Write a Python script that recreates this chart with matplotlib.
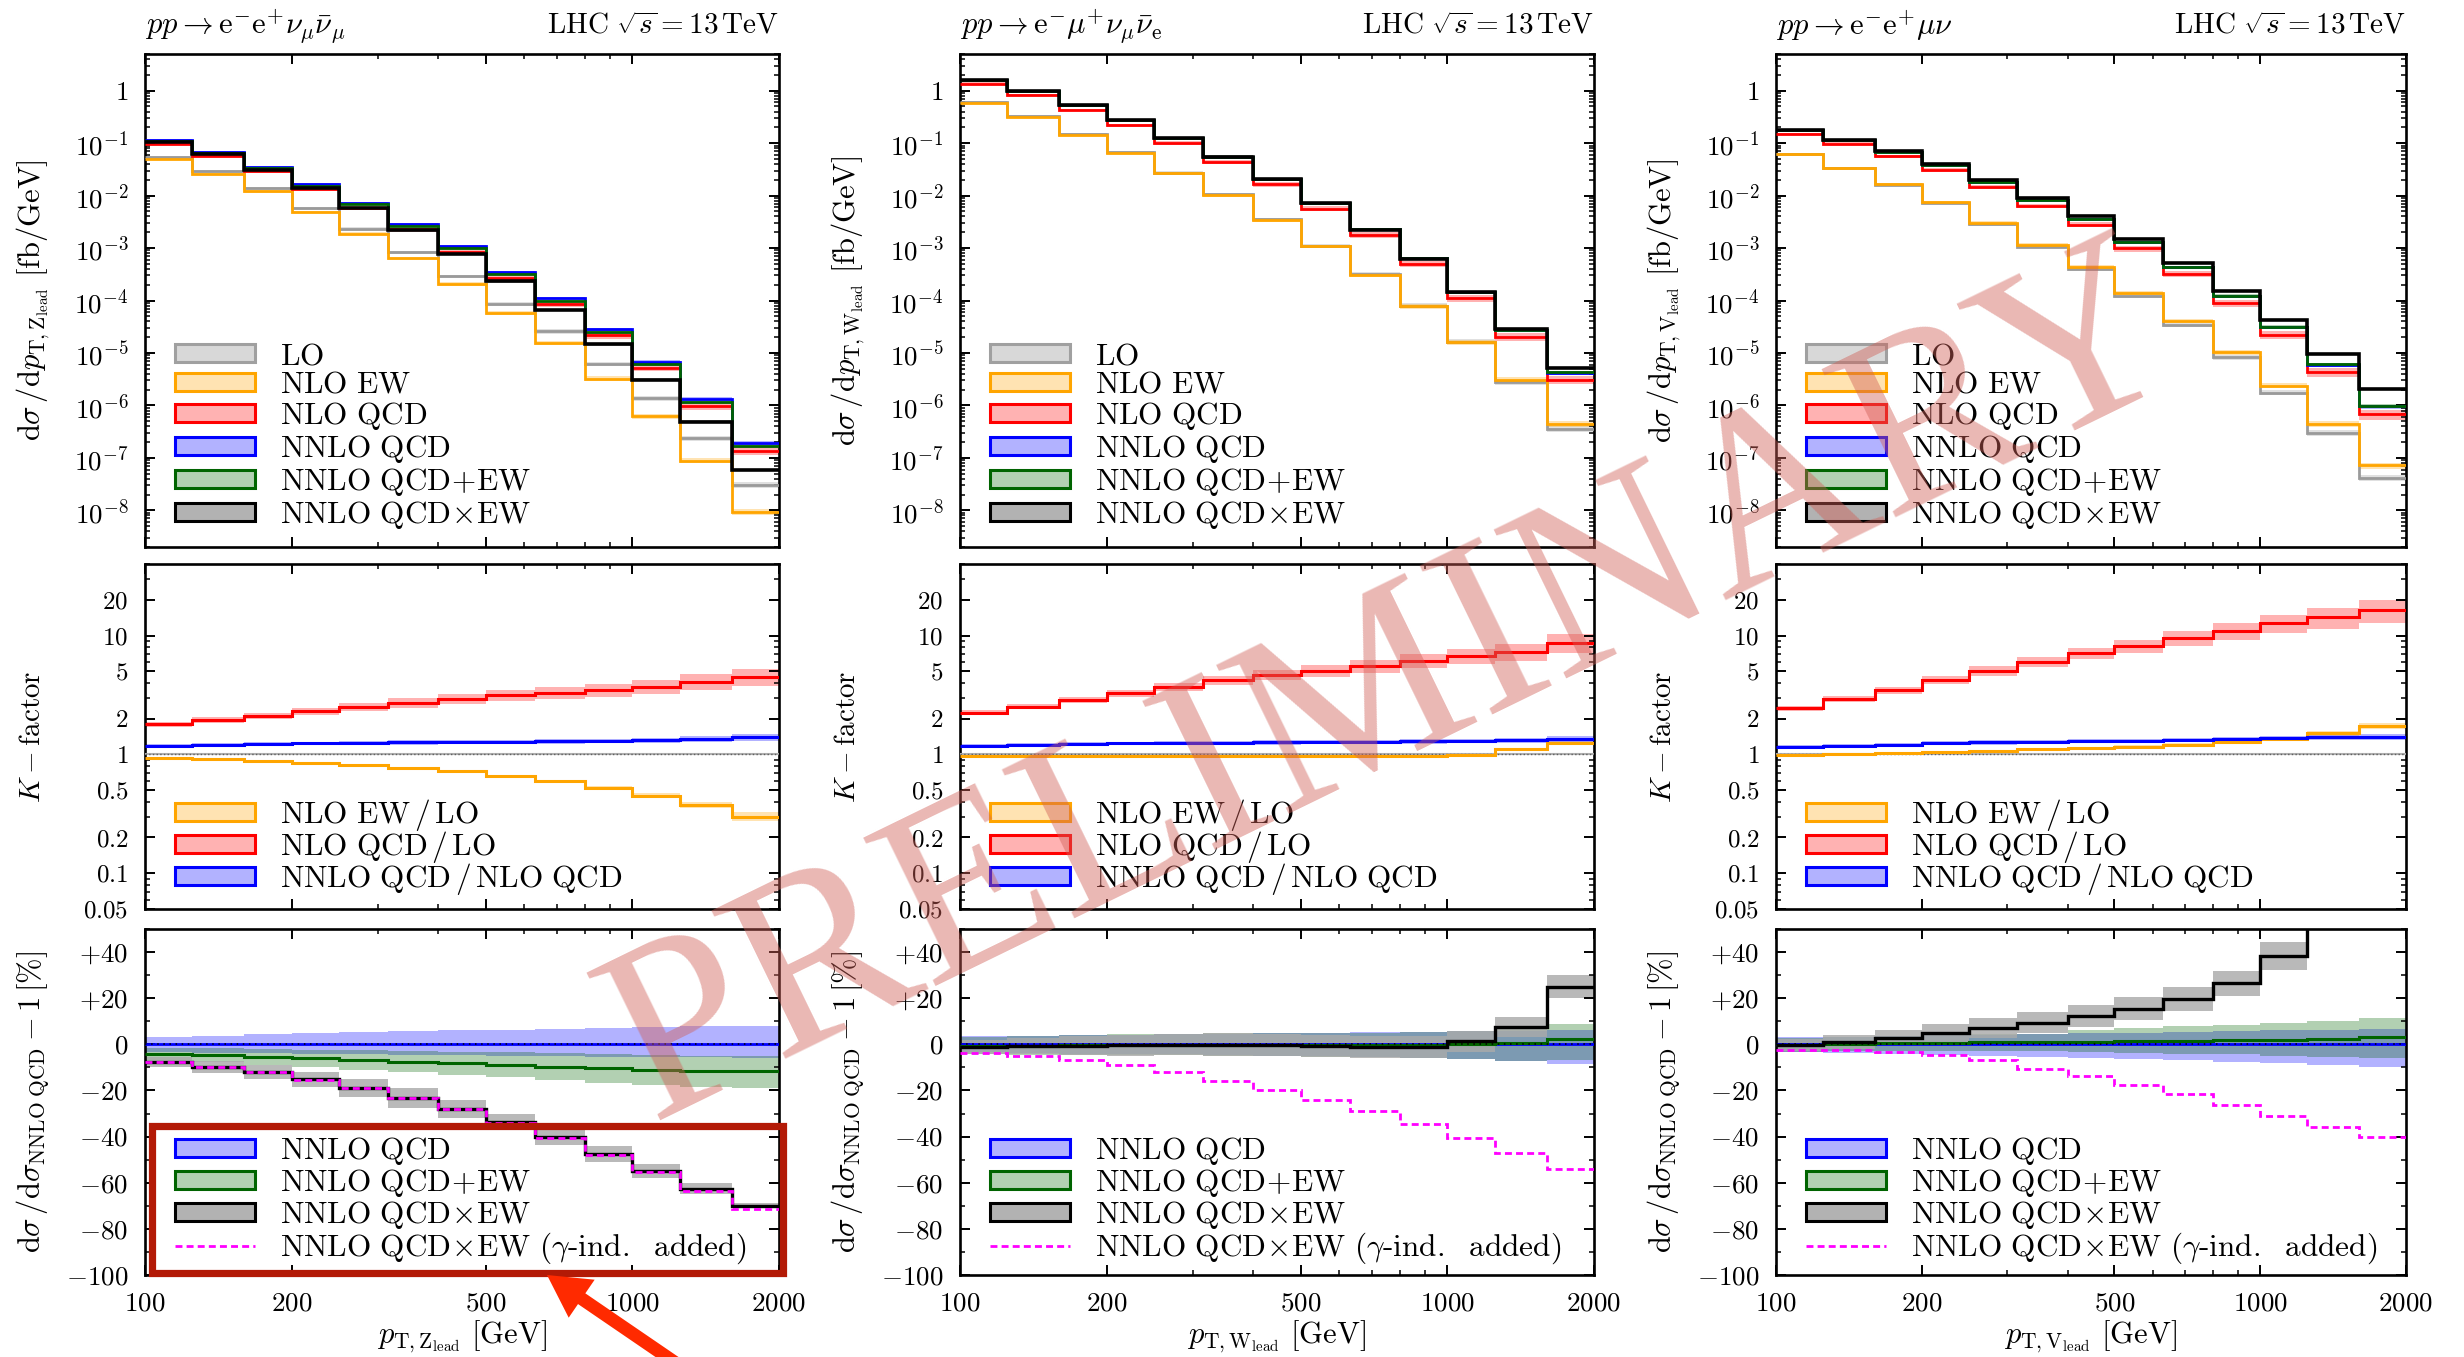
import numpy as np
import matplotlib
matplotlib.use('Agg')
import matplotlib.pyplot as plt
from matplotlib.patches import Patch, Rectangle, Polygon
from matplotlib.lines import Line2D
from matplotlib.ticker import FixedLocator, FuncFormatter, LogLocator, MultipleLocator, NullFormatter

plt.rcParams['mathtext.fontset'] = 'cm'
plt.rcParams['font.family'] = ['cmr10', 'DejaVu Serif']
plt.rcParams['axes.unicode_minus'] = False

# ---------------- data ----------------
edges = [100, 125, 160, 200, 250, 315, 400, 500, 630, 800, 1000, 1250, 1600, 2000]

# ZZ : pp -> e- e+ nu_mu nu_mu~
zz_lo = [5.4e-2, 2.88e-2, 1.37e-2, 5.76e-3, 2.31e-3, 8.3e-4, 2.88e-4, 8.7e-5, 2.58e-5, 6.2e-6, 1.39e-6, 2.38e-7, 3.06e-8]
zz_k_ew = [0.925, 0.91, 0.885, 0.85, 0.81, 0.767, 0.72, 0.657, 0.592, 0.524, 0.45, 0.374, 0.30]
zz_k_qcd = [1.80, 1.95, 2.12, 2.30, 2.52, 2.72, 2.93, 3.14, 3.31, 3.48, 3.72, 4.10, 4.51]
zz_k_nnlo = [1.175, 1.20, 1.22, 1.24, 1.25, 1.26, 1.27, 1.28, 1.29, 1.30, 1.32, 1.35, 1.39]
zz_lo_band = [5, 5, 6, 6, 7, 7, 8, 8, 9, 10, 11, 12, 13]
zz_ew_kband = [1, 1, 1, 1.5, 1.5, 2, 2, 2.5, 3, 4, 5, 6, 9]
zz_qcd_kband = [5, 5, 6, 7, 8, 9, 10, 11, 12, 13, 14, 15, 16]
zz_nnlo_kband = [3.5, 3.5, 3.5, 3.5, 3.5, 4, 4, 4, 4.5, 4.5, 5, 5.5, 6]
zz_nnlo_up = [3.2, 3.8, 4.3, 4.8, 5.3, 5.7, 6.1, 6.4, 6.8, 7.1, 7.5, 7.8, 8.0]
zz_nnlo_dn = [3.5, 3.7, 3.9, 4.1, 4.3, 4.5, 4.7, 4.9, 5.1, 5.3, 5.5, 5.7, 5.8]
zz_plus = [-4.1, -4.8, -5.5, -6.1, -6.8, -7.5, -8.2, -8.9, -9.7, -10.4, -11.0, -11.4, -11.4]
zz_plus_up = [2.6, 3.0, 3.4, 3.8, 4.2, 4.6, 5.0, 5.4, 5.8, 6.1, 6.3, 6.4, 6.5]
zz_plus_dn = [2.6, 3.0, 3.4, 3.8, 4.2, 4.6, 5.0, 5.4, 5.8, 6.3, 6.7, 7.0, 7.4]
zz_times = [-7.7, -9.7, -12.0, -15.2, -18.8, -23.2, -28.0, -33.8, -40.3, -47.4, -54.8, -62.6, -69.9]
zz_times_band = [2.3, 2.6, 3.0, 3.3, 3.9, 4.2, 4.0, 3.5, 3.5, 3.4, 3.0, 2.5, 1.2]
zz_gamma = [-7.8, -9.8, -12.1, -15.3, -18.9, -23.3, -28.2, -34.0, -40.6, -47.8, -55.3, -63.5, -71.5]

# WW : pp -> e- mu+ nu_mu nu_e~
ww_lo = [0.61, 0.326, 0.150, 0.0673, 0.0274, 0.0105, 3.52e-3, 1.11e-3, 3.2e-4, 8.0e-5, 1.63e-5, 2.78e-6, 3.55e-7]
ww_k_ew = [0.97, 0.97, 0.97, 0.97, 0.97, 0.97, 0.97, 0.97, 0.97, 0.97, 0.98, 1.10, 1.24]
ww_k_qcd = [2.24, 2.52, 2.87, 3.27, 3.72, 4.23, 4.66, 5.07, 5.55, 6.15, 6.74, 7.33, 8.73]
ww_k_nnlo = [1.18, 1.21, 1.22, 1.24, 1.25, 1.25, 1.26, 1.27, 1.28, 1.29, 1.30, 1.32, 1.35]
ww_lo_band = [5, 5, 6, 6, 7, 7, 8, 8, 9, 10, 11, 12, 13]
ww_ew_kband = [1, 1, 1, 1, 1, 1, 1.5, 1.5, 2, 2, 2.5, 3, 4]
ww_qcd_kband = [5, 5, 6, 7, 8, 9, 10, 11, 12, 13, 14, 16, 18]
ww_nnlo_kband = [3.5, 3.5, 3.5, 3.5, 3.5, 3.5, 4, 4, 4, 4.5, 4.5, 5, 5.5]
ww_nnlo_up = [3.5, 3.8, 4.0, 4.2, 4.4, 4.6, 4.8, 5.0, 5.2, 5.4, 5.6, 5.8, 6.0]
ww_nnlo_dn = [3.5, 3.8, 4.0, 4.2, 4.4, 4.6, 4.9, 5.2, 5.5, 5.9, 6.5, 7.4, 8.4]
ww_plus = [-0.9, -0.7, -0.5, -0.4, -0.3, -0.2, -0.2, -0.3, -0.3, -0.3, 0.0, 0.6, 2.5]
ww_plus_up = [4.0, 4.3, 4.5, 4.7, 4.8, 5.0, 5.0, 5.2, 5.3, 5.5, 5.8, 6.2, 6.5]
ww_plus_dn = [3.5, 4.0, 4.0, 4.3, 4.5, 4.7, 4.8, 5.0, 5.2, 5.5, 6.5, 8.0, 9.5]
ww_times = [-1.2, -0.7, -0.6, -0.4, -0.1, -0.1, -0.3, -0.7, -1.2, -1.2, 1.3, 7.5, 25.0]
ww_times_band = [3.0, 3.5, 4.0, 4.5, 4.7, 4.8, 4.8, 4.8, 4.8, 4.8, 4.5, 4.5, 5.0]
ww_gamma = [-3.8, -5.2, -7.0, -9.1, -12.0, -15.7, -19.6, -24.0, -29.1, -34.6, -40.7, -47.2, -54.0]

# WZ : pp -> e- e+ mu nu
wz_lo = [0.062, 0.0337, 0.0162, 7.24e-3, 2.86e-3, 1.06e-3, 3.9e-4, 1.2e-4, 3.41e-5, 8.2e-6, 1.76e-6, 3.0e-7, 4.15e-8]
wz_k_ew = [0.99, 1.0, 1.02, 1.04, 1.07, 1.10, 1.13, 1.16, 1.21, 1.26, 1.35, 1.50, 1.73]
wz_k_qcd = [2.44, 2.91, 3.48, 4.23, 5.04, 6.04, 7.10, 8.18, 9.50, 10.9, 12.7, 14.3, 16.4]
wz_k_nnlo = [1.16, 1.18, 1.21, 1.25, 1.26, 1.28, 1.30, 1.30, 1.32, 1.35, 1.37, 1.39, 1.41]
wz_lo_band = [5, 5, 6, 6, 7, 7, 8, 8, 9, 10, 11, 12, 13]
wz_ew_kband = [1, 1, 1, 1.5, 1.5, 2, 2, 2.5, 3, 3.5, 4, 5, 6]
wz_qcd_kband = [5, 6, 7, 8, 9, 10, 11, 13, 14, 16, 18, 20, 22]
wz_nnlo_kband = [3.5, 3.5, 3.5, 3.5, 4, 4, 4, 4, 4.5, 4.5, 5, 5, 5.5]
wz_nnlo_up = [3.0, 3.3, 3.6, 3.9, 4.2, 4.5, 4.8, 5.1, 5.4, 5.7, 6.0, 6.3, 6.6]
wz_nnlo_dn = [3.5, 3.8, 4.2, 4.6, 5.0, 5.4, 5.9, 6.4, 7.0, 7.6, 8.3, 9.1, 9.9]
wz_plus = [-0.3, 0.3, 0.6, 0.7, 0.9, 1.0, 1.2, 1.3, 1.4, 1.7, 2.0, 2.5, 3.2]
wz_plus_up = [3.0, 3.0, 3.2, 3.3, 3.4, 3.6, 4.8, 5.7, 6.4, 6.8, 7.3, 7.6, 8.0]
wz_plus_dn = [3.0, 3.2, 3.4, 3.6, 3.8, 4.0, 4.5, 5.0, 5.5, 6.0, 7.0, 8.0, 9.0]
wz_times = [-0.3, 1.0, 2.9, 4.9, 7.2, 9.4, 12.3, 15.5, 19.7, 26.4, 38.3, 58.0, 110.0]
wz_times_band = [2.5, 3.0, 3.5, 4.0, 4.3, 4.6, 4.8, 5.0, 5.3, 5.6, 6.0, 7.0, 8.0]
wz_gamma = [-2.3, -2.6, -3.3, -4.8, -7.0, -10.6, -13.9, -17.5, -21.7, -26.1, -30.9, -35.7, -40.3]

lo_ratio_band = 2.0  # % band of LO/LO reference line

proc_titles = [r'$pp\rightarrow\mathrm{e}^{-}\mathrm{e}^{+}\nu_{\mu}\bar{\nu}_{\mu}$',
               r'$pp\rightarrow\mathrm{e}^{-}\mu^{+}\nu_{\mu}\bar{\nu}_{\mathrm{e}}$',
               r'$pp\rightarrow\mathrm{e}^{-}\mathrm{e}^{+}\mu\nu$']
energy_label = r'$\mathrm{LHC}\ \sqrt{s}=13\,\mathrm{TeV}$'
boson_sub = ['Z', 'W', 'V']
top_labels = [r'$\mathrm{LO}$', r'$\mathrm{NLO\ EW}$', r'$\mathrm{NLO\ QCD}$', r'$\mathrm{NNLO\ QCD}$',
              r'$\mathrm{NNLO\ QCD\!+\!EW}$', r'$\mathrm{NNLO\ QCD}\!\times\!\mathrm{EW}$']
mid_labels = [r'$\mathrm{NLO\ EW\,/\,LO}$', r'$\mathrm{NLO\ QCD\,/\,LO}$', r'$\mathrm{NNLO\ QCD\,/\,NLO\ QCD}$']
bot_labels = [r'$\mathrm{NNLO\ QCD}$', r'$\mathrm{NNLO\ QCD\!+\!EW}$', r'$\mathrm{NNLO\ QCD}\!\times\!\mathrm{EW}$',
              r'$\mathrm{NNLO\ QCD}\!\times\!\mathrm{EW}\ (\gamma$-$\mathrm{ind.\ \ added})$']
k_ticks = [0.05, 0.1, 0.2, 0.5, 1, 2, 5, 10, 20]
k_tick_labels = ['0.05', '0.1', '0.2', '0.5', '1', '2', '5', '10', '20']
x_ticks = [100, 200, 500, 1000, 2000]
x_minor = [300, 400, 600, 700, 800, 900]

procs = [
    dict(lo=zz_lo, k_ew=zz_k_ew, k_qcd=zz_k_qcd, k_nnlo=zz_k_nnlo, lo_band=zz_lo_band, ew_kband=zz_ew_kband,
         qcd_kband=zz_qcd_kband, nnlo_kband=zz_nnlo_kband, nnlo_up=zz_nnlo_up, nnlo_dn=zz_nnlo_dn,
         plus=zz_plus, plus_up=zz_plus_up, plus_dn=zz_plus_dn, times=zz_times, times_band=zz_times_band,
         gamma=zz_gamma),
    dict(lo=ww_lo, k_ew=ww_k_ew, k_qcd=ww_k_qcd, k_nnlo=ww_k_nnlo, lo_band=ww_lo_band, ew_kband=ww_ew_kband,
         qcd_kband=ww_qcd_kband, nnlo_kband=ww_nnlo_kband, nnlo_up=ww_nnlo_up, nnlo_dn=ww_nnlo_dn,
         plus=ww_plus, plus_up=ww_plus_up, plus_dn=ww_plus_dn, times=ww_times, times_band=ww_times_band,
         gamma=ww_gamma),
    dict(lo=wz_lo, k_ew=wz_k_ew, k_qcd=wz_k_qcd, k_nnlo=wz_k_nnlo, lo_band=wz_lo_band, ew_kband=wz_ew_kband,
         qcd_kband=wz_qcd_kband, nnlo_kband=wz_nnlo_kband, nnlo_up=wz_nnlo_up, nnlo_dn=wz_nnlo_dn,
         plus=wz_plus, plus_up=wz_plus_up, plus_dn=wz_plus_dn, times=wz_times, times_band=wz_times_band,
         gamma=wz_gamma),
]

# ---------------- style ----------------
C_LO, C_EW, C_QCD, C_NNLO, C_PLUS, C_TIMES, C_GAM = '#9a9a9a', '#ffa500', '#ff0000', '#0000ff', '#006400', '#000000', '#ff00ff'
BAND_ALPHA = 0.3

W, H = 2464, 1357
fig = plt.figure(figsize=(W / 100, H / 100), dpi=100)

col_left = [145, 960, 1776]
col_width = [634, 634, 630]
rows = [(54, 547), (564, 909), (929, 1275)]


def add_axes(c, r):
    x0 = col_left[c]
    y0, y1 = rows[r]
    return fig.add_axes([x0 / W, 1 - y1 / H, col_width[c] / W, (y1 - y0) / H])


def band(ax, lo, hi, color, z=1, alpha=BAND_ALPHA):
    ax.stairs(hi, edges, baseline=lo, fill=True, color=color, alpha=alpha, lw=0, zorder=z)


def line(ax, v, color, lw=2.0, z=3, **kw):
    ax.stairs(v, edges, baseline=None, color=color, lw=lw, zorder=z, **kw)


def style_axis(ax, bottom_labels):
    ax.set_xscale('log')
    ax.set_xlim(100, 2000)
    ax.xaxis.set_major_locator(FixedLocator(x_ticks))
    ax.xaxis.set_minor_locator(FixedLocator(x_minor))
    ax.xaxis.set_minor_formatter(NullFormatter())
    if bottom_labels:
        ax.xaxis.set_major_formatter(FuncFormatter(lambda v, p: r'$%d$' % int(round(v))))
    else:
        ax.xaxis.set_major_formatter(NullFormatter())
    ax.tick_params(which='both', direction='in', top=True, right=True)
    ax.tick_params(which='major', length=7, width=1.4, labelsize=19.5, pad=12)
    ax.tick_params(which='minor', length=3.5, width=1.1)
    ax.tick_params(axis='x', labelbottom=bottom_labels)
    for s in ax.spines.values():
        s.set_linewidth(1.9)


def patch(color, edge=None):
    return Patch(facecolor=matplotlib.colors.to_rgba(color, BAND_ALPHA), edgecolor=edge or color, lw=2.2)


def leg_kw(spacing):
    return dict(loc='lower left', frameon=False, fontsize=22.5, handlelength=2.55, handleheight=0.52,
                handletextpad=0.82, labelspacing=spacing, borderpad=0, borderaxespad=0)


for c, p in enumerate(procs):
    lo = np.array(p['lo'])
    k_ew = np.array(p['k_ew'])
    k_qcd = np.array(p['k_qcd'])
    k_nnlo = np.array(p['k_nnlo'])
    lob = np.array(p['lo_band']) / 100
    ewb = np.array(p['ew_kband']) / 100
    qcb = np.array(p['qcd_kband']) / 100
    nnb = np.array(p['nnlo_kband']) / 100
    nup = np.array(p['nnlo_up'])
    ndn = np.array(p['nnlo_dn'])
    plus = np.array(p['plus'])
    pup = np.array(p['plus_up'])
    pdn = np.array(p['plus_dn'])
    times = np.array(p['times'])
    tb = np.array(p['times_band'])
    gam = np.array(p['gamma'])

    nlo_ew = lo * k_ew
    nlo_qcd = lo * k_qcd
    nnlo = nlo_qcd * k_nnlo
    s_plus = nnlo * (1 + plus / 100)
    s_times = nnlo * (1 + times / 100)

    # ---------- top panel ----------
    ax = add_axes(c, 0)
    style_axis(ax, False)
    ax.set_yscale('log')
    ax.set_ylim(2e-9, 5)
    ax.yaxis.set_major_locator(FixedLocator([1e-8, 1e-7, 1e-6, 1e-5, 1e-4, 1e-3, 1e-2, 1e-1, 1]))
    ax.yaxis.set_minor_locator(LogLocator(base=10, subs=np.arange(2, 10), numticks=30))
    ax.yaxis.set_minor_formatter(NullFormatter())
    ax.yaxis.set_major_formatter(FuncFormatter(
        lambda v, pos: r'$1$' if abs(np.log10(v)) < 1e-6 else r'$10^{%d}$' % int(round(np.log10(v)))))

    band(ax, lo * (1 - lob), lo * (1 + lob), C_LO)
    line(ax, lo, C_LO, lw=2.0)
    band(ax, nlo_ew * (1 - lob), nlo_ew * (1 + lob), C_EW)
    line(ax, nlo_ew, C_EW, lw=2.0)
    band(ax, nlo_qcd * (1 - qcb), nlo_qcd * (1 + qcb), C_QCD)
    line(ax, nlo_qcd, C_QCD, lw=2.0)
    band(ax, nnlo * (1 - ndn / 100), nnlo * (1 + nup / 100), C_NNLO)
    line(ax, nnlo, C_NNLO, lw=2.0)
    band(ax, nnlo * (1 + (plus - pdn) / 100), nnlo * (1 + (plus + pup) / 100), C_PLUS)
    line(ax, s_plus, C_PLUS, lw=2.0)
    band(ax, nnlo * (1 + (times - tb) / 100), nnlo * (1 + (times + tb) / 100), C_TIMES)
    line(ax, s_times, C_TIMES, lw=2.6, z=4)

    handles = [patch('#808080', '#a0a0a0'), patch(C_EW), patch(C_QCD), patch(C_NNLO), patch(C_PLUS), patch(C_TIMES)]
    ax.legend(handles, top_labels, bbox_to_anchor=(30 / col_width[c], 0.033), **leg_kw(0.03))

    x_left = col_left[c] / W
    x_right = (col_left[c] + col_width[c]) / W
    fig.text(x_left, 1 - 26 / H, proc_titles[c], ha='left', va='center', fontsize=22)
    fig.text(x_right, 1 - 26 / H, energy_label, ha='right', va='center', fontsize=21)
    fig.text((col_left[c] - 112) / W, 1 - (rows[0][0] + rows[0][1]) / 2 / H,
             r'$\mathrm{d}\sigma\,/\mathrm{d}p_{\mathrm{T},\mathrm{%s}_{\mathrm{lead}}}\ [\mathrm{fb}/\mathrm{GeV}]$' % boson_sub[c],
             rotation=90, ha='center', va='center', fontsize=22)

    # ---------- middle panel ----------
    ax = add_axes(c, 1)
    style_axis(ax, False)
    ax.set_yscale('log')
    ax.set_ylim(0.05, 40)
    ax.yaxis.set_major_locator(FixedLocator(k_ticks))
    ax.yaxis.set_major_formatter(FuncFormatter(lambda v, pos: r'$%s$' % k_tick_labels[pos] if pos is not None and pos < len(k_tick_labels) else ''))
    ax.yaxis.set_minor_locator(LogLocator(base=10, subs=np.arange(1, 10), numticks=30))
    ax.yaxis.set_minor_formatter(NullFormatter())
    ax.tick_params(axis='y', labelsize=18)

    ones = np.ones(len(lo))
    band(ax, ones * (1 - lo_ratio_band / 100), ones * (1 + lo_ratio_band / 100), '#808080')
    line(ax, ones, '#b0b0b0', lw=1.5)
    line(ax, ones, '#606060', lw=1.0, ls=':')
    band(ax, k_ew * (1 - ewb), k_ew * (1 + ewb), C_EW)
    line(ax, k_ew, C_EW, lw=2.2)
    band(ax, k_qcd * (1 - qcb), k_qcd * (1 + qcb), C_QCD)
    line(ax, k_qcd, C_QCD, lw=2.2)
    band(ax, k_nnlo * (1 - nnb), k_nnlo * (1 + nnb), C_NNLO)
    line(ax, k_nnlo, C_NNLO, lw=2.2)

    handles = [patch(C_EW), patch(C_QCD), patch(C_NNLO)]
    ax.legend(handles, mid_labels, bbox_to_anchor=(30 / col_width[c], 0.035), **leg_kw(-0.125))
    fig.text((col_left[c] - 112) / W, 1 - (rows[1][0] + rows[1][1]) / 2 / H, r'$K-\mathrm{factor}$',
             rotation=90, ha='center', va='center', fontsize=21)

    # ---------- bottom panel ----------
    ax = add_axes(c, 2)
    style_axis(ax, True)
    ax.set_ylim(-100, 50)
    ax.yaxis.set_major_locator(MultipleLocator(20))
    ax.yaxis.set_minor_locator(MultipleLocator(10))
    ax.yaxis.set_major_formatter(FuncFormatter(
        lambda v, pos: r'$0$' if abs(v) < 1e-9 else (r'$+%d$' % int(round(v)) if v > 0 else r'$-%d$' % int(round(-v)))))

    zeros = np.zeros(len(lo))
    band(ax, -ndn, nup, C_NNLO)
    band(ax, plus - pdn, plus + pup, C_PLUS)
    band(ax, times - tb, times + tb, '#aaaaaa', alpha=0.82)
    line(ax, zeros, C_NNLO, lw=2.0)
    line(ax, zeros, 'black', lw=1.1, ls=(0, (1, 3)), z=3.5)
    line(ax, plus, C_PLUS, lw=2.2)
    line(ax, times, C_TIMES, lw=2.4, z=4)
    line(ax, gam, C_GAM, lw=2.0, z=5, ls=(0, (2.5, 1.5)))

    handles = [patch(C_NNLO), patch(C_PLUS), patch(C_TIMES), Line2D([], [], color=C_GAM, lw=2.0, ls=(0, (2.5, 1.5)))]
    ax.legend(handles, bot_labels, bbox_to_anchor=(30 / col_width[c], 0.025), **leg_kw(0.0))
    fig.text((col_left[c] - 112) / W, 1 - (rows[2][0] + rows[2][1]) / 2 / H,
             r'$\mathrm{d}\sigma\,/\mathrm{d}\sigma_{\mathrm{NNLO\ QCD}}-1\,[\%]$',
             rotation=90, ha='center', va='center', fontsize=22)
    fig.text((col_left[c] + col_width[c] / 2) / W, 1 - 1337 / H,
             r'$p_{\mathrm{T},\mathrm{%s}_{\mathrm{lead}}}\ [\mathrm{GeV}]$' % boson_sub[c],
             ha='center', va='center', fontsize=22)

# ---------------- watermark ----------------
fig.text(1395 / W, 1 - 691 / H, 'PRELIMINARY', rotation=26, rotation_mode='anchor', ha='center', va='center',
         fontsize=182, family='Liberation Serif', color='#d06058', alpha=0.45, zorder=10)

# ---------------- annotation box + arrow ----------------
box = Rectangle((152 / W, 1 - 1273 / H), 631 / W, 147 / H, transform=fig.transFigure, fill=False,
                edgecolor='#b31a06', lw=5.2, zorder=20)
fig.add_artist(box)

tip = np.array([547.0, 1275.0])
u = np.array([120.0, 82.0]); u /= np.linalg.norm(u)
pp = np.array([-u[1], u[0]])
base = tip + 42 * u
tail = tip + 260 * u
verts = [tip, base + 23 * pp, base + 6.5 * pp, tail + 6.5 * pp, tail - 6.5 * pp, base - 6.5 * pp, base - 23 * pp]
verts = [(v[0] / W, 1 - v[1] / H) for v in verts]
fig.add_artist(Polygon(verts, closed=True, transform=fig.transFigure, facecolor='#ff2a00', edgecolor='none', zorder=21))

fig.savefig('out.png', dpi=100)
